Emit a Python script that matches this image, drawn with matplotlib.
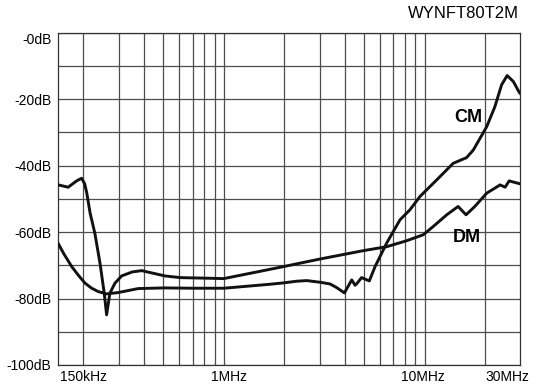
"""Insertion loss curves for the WYNFT80T2M filter (CM / DM)."""

import matplotlib

matplotlib.use("Agg")
import matplotlib.pyplot as plt
import matplotlib.transforms as mtransforms

plt.rcParams["font.family"] = ["Liberation Sans", "DejaVu Sans"]

TITLE = "WYNFT80T2M"

# frequency in MHz, attenuation in dB
cm_freq = [0.15, 0.16, 0.175, 0.19, 0.204, 0.22, 0.237, 0.261, 0.298, 0.375,
           0.51, 0.7, 1.0, 1.7, 1.98, 2.3, 2.59, 3.02, 3.38, 3.65, 3.99, 4.34,
           4.51, 4.59, 4.86, 5.31, 5.67, 6.48, 7.55, 8.46, 9.49, 11.5, 13.9,
           16.2, 17.5, 20.4, 22.4, 24.2, 25.8, 27.7, 29.6, 30.0]
cm_db = [-63.5, -66.6, -70.4, -73.2, -75.4, -76.9, -77.9, -78.6, -78.2, -77.0,
         -76.8, -76.9, -76.9, -75.7, -75.3, -74.8, -74.6, -75.1, -75.6, -76.7,
         -78.3, -74.4, -76.0, -75.6, -73.7, -74.7, -70.4, -63.3, -56.3, -53.3,
         -49.3, -44.3, -39.3, -37.6, -35.3, -28.3, -22.3, -15.7, -12.9, -14.7,
         -17.9, -18.3]

dm_freq = [0.15, 0.168, 0.185, 0.196, 0.203, 0.208, 0.216, 0.228, 0.242,
           0.254, 0.261, 0.271, 0.287, 0.31, 0.35, 0.39, 0.51, 0.606, 1.0,
           1.98, 3.02, 4.95, 6.48, 8.15, 9.86, 11.06, 12.9, 14.7, 16.1, 17.8,
           20.4, 23.8, 25.2, 26.4, 30.0]
dm_db = [-45.8, -46.5, -44.6, -43.8, -45.5, -48.3, -54.3, -60.3, -69.4,
         -78.4, -84.9, -78.4, -75.4, -73.2, -72.0, -71.6, -73.2, -73.7, -74.0,
         -70.4, -68.1, -65.6, -64.4, -62.6, -60.8, -58.3, -54.8, -52.3, -54.8,
         -52.3, -48.3, -45.8, -46.5, -44.6, -45.5]

grid_freq = [0.2, 0.3, 0.4, 0.5, 0.6, 0.7, 0.8, 0.9, 1, 2, 3, 4, 5, 6, 7, 8, 9, 10, 20]
grid_db = list(range(-100, 1, 10))
ytick_db = list(range(-100, 1, 20))
ytick_labels = ["-100dB", "-80dB", "-60dB", "-40dB", "-20dB", "-0dB"]
xlabel_freq = [0.2, 1.06, 9.8]
xlabel_text = ["150kHz", "1MHz", "10MHz"]

fig = plt.figure(figsize=(5.33, 3.91), dpi=100)
ax = fig.add_axes([0.1094, 0.0665, 0.8668, 0.8499])
ax.set_xscale("log")
ax.set_xlim(0.15, 30)
ax.set_ylim(-100, 0)

for f in grid_freq:
    ax.axvline(f, color="#4d4d4d", lw=0.9, zorder=1)
for d in grid_db:
    ax.axhline(d, color="#4d4d4d", lw=0.9, zorder=1)

ax.plot(cm_freq, cm_db, color="#111111", lw=2.1, zorder=3, solid_joinstyle="round")
ax.plot(dm_freq, dm_db, color="#111111", lw=2.1, zorder=3, solid_joinstyle="round")

ax.text(16.5, -25.4, "CM", fontsize=13, fontweight="bold", ha="center", va="center")
ax.text(16.3, -61.6, "DM", fontsize=13, fontweight="bold", ha="center", va="center")

ax.set_xticks([])
ax.set_xticks([], minor=True)
ax.set_yticks(ytick_db)
ax.set_yticklabels(ytick_labels, fontsize=10)
ax.tick_params(axis="y", length=0, pad=5)
labels = ax.get_yticklabels()
labels[-1].set_va("top")

trans = mtransforms.blended_transform_factory(ax.transData, ax.transAxes)
for f, text in zip(xlabel_freq, xlabel_text):
    ax.text(f, -0.015, text, transform=trans, ha="center", va="top", fontsize=10)
ax.text(1.02, -0.015, "30MHz", transform=ax.transAxes, ha="right", va="top", fontsize=10)

for spine in ax.spines.values():
    spine.set_color("#333333")
    spine.set_linewidth(0.9)

fig.text(0.974, 0.965, TITLE, ha="right", va="center", fontsize=12)

fig.savefig("out.png", dpi=100)
